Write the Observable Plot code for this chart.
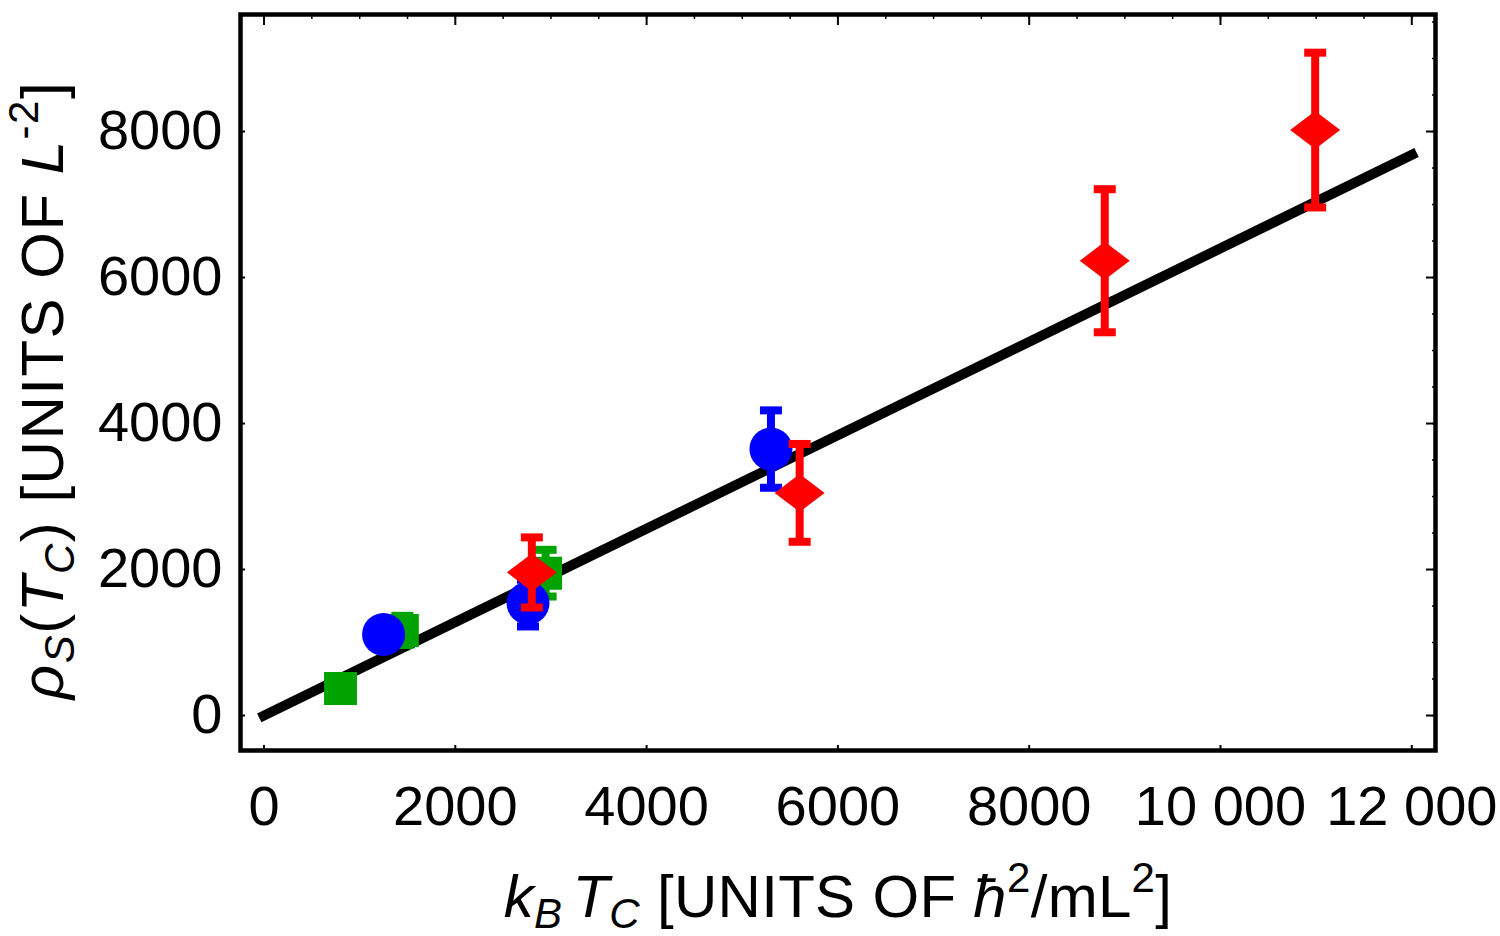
<!DOCTYPE html>
<html>
<head>
<meta charset="utf-8">
<script src="https://cdn.jsdelivr.net/npm/d3@7"></script>
<script src="https://cdn.jsdelivr.net/npm/@observablehq/plot@0.6"></script>
<style>
  body { margin: 0; background: #fff; }
  svg { font-family: "Liberation Sans", Arial, Helvetica, sans-serif; }
</style>
</head>
<body>
<div id="chart"></div>
<script>
// ---- data ----
const redX = [2800, 5600, 8790, 10990];
const redY = [1960, 3050, 6230, 8020];
const redErr = [480, 670, 980, 1060];

const blueX = [1250, 2760, 5300];
const blueY = [1110, 1540, 3650];
const blueErr = [200, 320, 530];

const greenX = [800, 1446, 2944];
const greenY = [370, 1166, 1950];
const greenErr = [150, 200, 320];

const fitX = [-50, 12050];
const fitSlope = 0.64;

const xTicks = [0, 2000, 4000, 6000, 8000, 10000, 12000];
const yTicks = [0, 2000, 4000, 6000, 8000];
const xMinor = d3.range(0, 12001, 500);
const yMinor = d3.range(0, 9501, 500);

// ---- build tables ----
const mk = (X, Y, E) => X.map((x, i) => ({x, y: Y[i], lo: Y[i] - E[i], hi: Y[i] + E[i]}));
const red = mk(redX, redY, redErr);
const blue = mk(blueX, blueY, blueErr);
const green = mk(greenX, greenY, greenErr);
const fit = fitX.map(x => ({x, y: fitSlope * x}));

const RED = "#ff0000", BLUE = "#0000ff", GREEN = "#00a300";

// custom symbols
const diamond = {draw(ctx, size) { const r = Math.sqrt(size / Math.PI); ctx.moveTo(0, -0.76 * r); ctx.lineTo(r, 0); ctx.lineTo(0, 0.76 * r); ctx.lineTo(-r, 0); ctx.closePath(); }};
const cap = {draw(ctx) { ctx.rect(-11, -4, 22, 8); }};

function errorMarks(data, color) {
  return [
    Plot.ruleX(data, {x: "x", y1: "lo", y2: "hi", stroke: color, strokeWidth: 8}),
    Plot.dot(data, {x: "x", y: "lo", symbol: cap, fill: color, r: 5}),
    Plot.dot(data, {x: "x", y: "hi", symbol: cap, fill: color, r: 5})
  ];
}

const fmt = d => d >= 10000 ? String(d).replace(/(\d+)(\d{3})$/, "$1 $2") : String(d);

const svg = Plot.plot({
  width: 1500,
  height: 936,
  marginLeft: 240,
  marginRight: 65,
  marginTop: 14,
  marginBottom: 186,
  x: {domain: [-246, 12248]},
  y: {domain: [-479, 9603]},
  style: {fontFamily: '"Liberation Sans", Arial, sans-serif', color: "#000", background: "#fff"},
  marks: [
    // tick marks (inward)
    Plot.axisX(xTicks, {anchor: "bottom", tickSize: -5, strokeWidth: 2, tickFormat: () => "", label: null}),
    Plot.axisX(xMinor, {anchor: "top", tickSize: -4, strokeWidth: 1.5, tickFormat: () => "", label: null}),
    Plot.axisX(xTicks, {anchor: "top", tickSize: -10, strokeWidth: 2, tickFormat: () => "", label: null}),
    Plot.axisY(yTicks, {anchor: "left", tickSize: -5, strokeWidth: 2, tickFormat: () => "", label: null}),
    Plot.axisY(yMinor, {anchor: "right", tickSize: -4, strokeWidth: 1.5, tickFormat: () => "", label: null}),
    Plot.axisY(yTicks, {anchor: "right", tickSize: -10, strokeWidth: 2, tickFormat: () => "", label: null}),
    // tick labels
    Plot.axisX(xTicks, {anchor: "bottom", tickSize: 0, tickPadding: 35, fontSize: 56, tickFormat: fmt, label: null}),
    Plot.axisY(yTicks, {anchor: "left", tickSize: 0, tickPadding: 18, fontSize: 56, tickFormat: d => String(d), label: null}),
    // fit line
    Plot.line(fit, {x: "x", y: "y", stroke: "#000", strokeWidth: 10, strokeLinecap: "butt"}),
    // green squares
    ...errorMarks(green, GREEN),
    Plot.dot(green, {x: "x", y: "y", symbol: "square", r: 18.6, fill: GREEN}),
    // blue circles
    ...errorMarks(blue, BLUE),
    Plot.dot(blue, {x: "x", y: "y", symbol: "circle", r: 21.5, fill: BLUE}),
    // red diamonds
    ...errorMarks(red, RED),
    Plot.dot(red, {x: "x", y: "y", symbol: diamond, r: 25, fill: RED}),
    Plot.frame({stroke: "#000", strokeWidth: 4.5})
  ]
});

document.getElementById("chart").appendChild(svg);

// ---- axis titles with sub/superscripts ----
const s = d3.select(svg);
function addLabel(parent, parts) {
  let shift = 0;
  for (const p of parts) {
    const t = parent.append("tspan").text(p.t);
    if (p.italic) t.attr("font-style", "italic");
    if (p.size) t.attr("font-size", p.size);
    const target = p.shift || 0;
    if (target !== shift) { t.attr("dy", target - shift); shift = target; }
    if (p.dx) t.attr("dx", p.dx);
  }
}

const xl = s.append("text")
  .attr("x", 838).attr("y", 917)
  .attr("text-anchor", "middle")
  .attr("font-size", 60)
  .attr("letter-spacing", 0.3)
  .attr("fill", "#000")
  .style("white-space", "pre");
addLabel(xl, [
  {t: "k", italic: true},
  {t: "B", italic: true, size: 42, shift: 11},
  {t: "T", italic: true, shift: 0, dx: 10},
  {t: "C", italic: true, size: 42, shift: 11},
  {t: " [UNITS OF ", shift: 0},
  {t: "\u0127", italic: true},
  {t: "2", size: 42, shift: -25},
  {t: "/mL", shift: 0},
  {t: "2", size: 42, shift: -25},
  {t: "]", shift: 0}
]);

const yl = s.append("text")
  .attr("transform", "translate(63,390) rotate(-90)")
  .attr("text-anchor", "middle")
  .attr("font-size", 60)
  .attr("letter-spacing", 1.5)
  .attr("fill", "#000")
  .style("white-space", "pre");
addLabel(yl, [
  {t: "\u03c1", italic: true},
  {t: "S", italic: true, size: 42, shift: 11},
  {t: "(", shift: 0},
  {t: "T", italic: true},
  {t: "C", italic: true, size: 42, shift: 11},
  {t: ") [UNITS OF ", shift: 0},
  {t: "L", italic: true},
  {t: "-2", size: 42, shift: -25},
  {t: "]", shift: 0}
]);
</script>
</body>
</html>
